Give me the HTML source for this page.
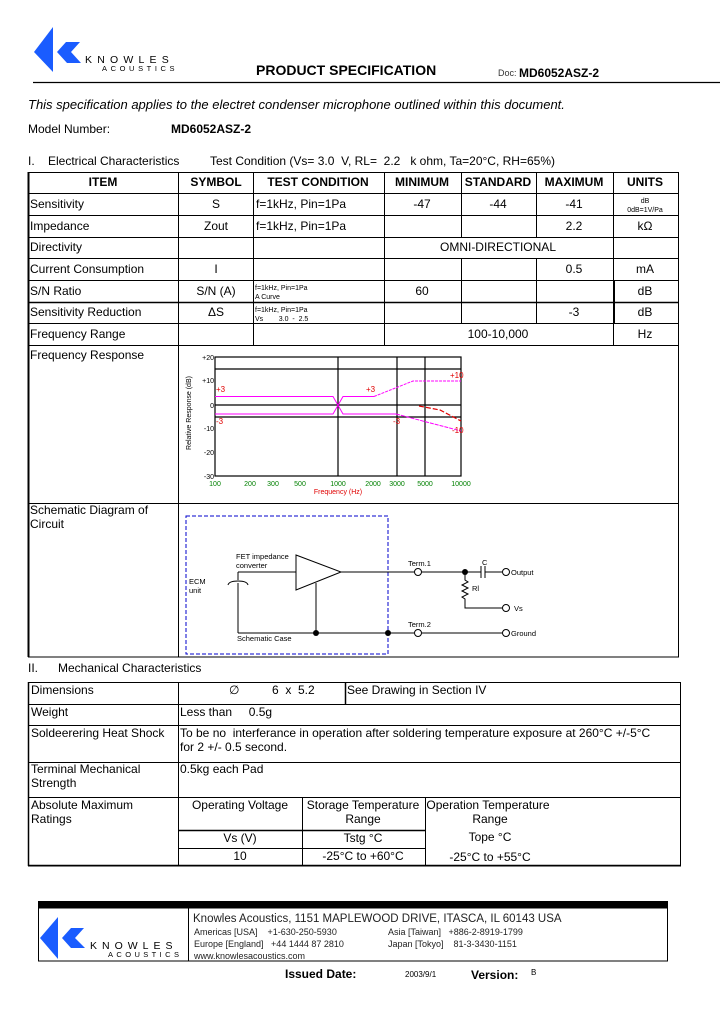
<!DOCTYPE html>
<html><head><meta charset="utf-8"><style>
html,body{margin:0;padding:0;background:#fff;}
svg{display:block;font-family:"Liberation Sans",Arial,sans-serif;}
svg text{white-space:pre;}
</style></head><body>
<svg width="720" height="1012" viewBox="0 0 720 1012" xmlns="http://www.w3.org/2000/svg" xml:space="preserve">
<rect width="720" height="1012" fill="#fff"/>
<!-- header logo -->
<polygon points="34,52 53,27 53,72" fill="#1a5cff"/>
<polygon points="57,52 66,42 80,42 71,52 81,63 67,63" fill="#1a5cff"/>
<text x="85" y="63" font-size="10.5" letter-spacing="5.2" fill="#000">KNOWLES</text>
<text x="102" y="71" font-size="7.5" letter-spacing="3.6" fill="#000">ACOUSTICS</text>
<text x="256" y="75" font-size="14" font-weight="bold">PRODUCT SPECIFICATION</text>
<text x="498" y="76" font-size="9" fill="#333">Doc:</text>
<text x="519" y="77" font-size="12" font-weight="bold">MD6052ASZ-2</text>
<line x1="33" y1="82.5" x2="720" y2="82.5" stroke="#000" stroke-width="1.2"/>
<text x="28" y="109" font-size="13" font-style="italic">This specification applies to the electret condenser microphone outlined within this document.</text>
<text x="28" y="133" font-size="12">Model Number:</text>
<text x="171" y="133" font-size="12" font-weight="bold">MD6052ASZ-2</text>
<text x="28" y="165" font-size="12">I.    Electrical Characteristics</text>
<text x="210" y="165" font-size="12">Test Condition (Vs= 3.0  V, RL=  2.2   k ohm, Ta=20°C, RH=65%)</text>

<!-- table 1 -->
<g stroke="#000" stroke-width="1" fill="none">
<rect x="28.5" y="172.5" width="650" height="484.5"/>
<line x1="28.5" y1="172" x2="28.5" y2="657" stroke-width="2"/>
<line x1="28" y1="193.5" x2="679" y2="193.5"/>
<line x1="28" y1="215.5" x2="679" y2="215.5"/>
<line x1="28" y1="237.5" x2="679" y2="237.5"/>
<line x1="28" y1="258.5" x2="679" y2="258.5"/>
<line x1="28" y1="280.5" x2="679" y2="280.5"/>
<line x1="28" y1="302.5" x2="679" y2="302.5" stroke-width="1.5"/>
<line x1="28" y1="323.5" x2="679" y2="323.5"/>
<line x1="28" y1="345.5" x2="679" y2="345.5"/>
<line x1="28" y1="503.5" x2="679" y2="503.5"/>
<line x1="178.5" y1="172" x2="178.5" y2="657"/>
<line x1="253.5" y1="172" x2="253.5" y2="345"/>
<line x1="384.5" y1="172" x2="384.5" y2="345"/>
<line x1="461.5" y1="172" x2="461.5" y2="237"/>
<line x1="461.5" y1="258" x2="461.5" y2="323"/>
<line x1="536.5" y1="172" x2="536.5" y2="237"/>
<line x1="536.5" y1="258" x2="536.5" y2="323"/>
<line x1="613.5" y1="172" x2="613.5" y2="345"/>
<line x1="614" y1="280" x2="614" y2="323" stroke-width="2"/>
</g>
<g font-size="12" font-weight="bold" text-anchor="middle">
<text x="103" y="186">ITEM</text><text x="216" y="186">SYMBOL</text><text x="318" y="186">TEST CONDITION</text>
<text x="422" y="186">MINIMUM</text><text x="498" y="186">STANDARD</text><text x="574" y="186">MAXIMUM</text><text x="645" y="186">UNITS</text>
</g>
<g font-size="12">
<text x="30" y="208">Sensitivity</text><text x="30" y="230">Impedance</text><text x="30" y="251">Directivity</text>
<text x="30" y="273">Current Consumption</text><text x="30" y="295">S/N Ratio</text><text x="30" y="316">Sensitivity Reduction</text>
<text x="30" y="338">Frequency Range</text><text x="30" y="359">Frequency Response</text>
<text x="30" y="514">Schematic Diagram of</text><text x="30" y="528">Circuit</text>
<text x="256" y="208">f=1kHz, Pin=1Pa</text><text x="256" y="230">f=1kHz, Pin=1Pa</text>
</g>
<g font-size="12" text-anchor="middle">
<text x="216" y="208">S</text><text x="216" y="230">Zout</text><text x="216" y="273">I</text><text x="216" y="295">S/N (A)</text><text x="216" y="316">ΔS</text>
<text x="422" y="208">-47</text><text x="498" y="208">-44</text><text x="574" y="208">-41</text>
<text x="574" y="230">2.2</text><text x="645" y="230">kΩ</text>
<text x="498" y="251">OMNI-DIRECTIONAL</text>
<text x="574" y="273">0.5</text><text x="645" y="273">mA</text>
<text x="422" y="295">60</text><text x="645" y="295">dB</text>
<text x="574" y="316">-3</text><text x="645" y="316">dB</text>
<text x="498" y="338">100-10,000</text><text x="645" y="338">Hz</text>
<text x="645" y="203" font-size="7">dB</text><text x="645" y="212" font-size="7">0dB=1V/Pa</text>
</g>
<g font-size="7">
<text x="255" y="290">f=1kHz, Pin=1Pa</text><text x="255" y="299">A Curve</text>
<text x="255" y="312">f=1kHz, Pin=1Pa</text><text x="255" y="321">Vs        3.0  -  2.5</text>
</g>

<!-- chart -->
<g stroke="#000" stroke-width="1.2" fill="none">
<rect x="215" y="357" width="246" height="119"/>
<line x1="215" y1="369" x2="461" y2="369"/>
<line x1="215" y1="405" x2="461" y2="405"/>
<line x1="215" y1="417" x2="461" y2="417"/>
<line x1="338" y1="357" x2="338" y2="476"/>
<line x1="397" y1="357" x2="397" y2="476"/>
<line x1="425" y1="357" x2="425" y2="476"/>
</g>
<g stroke="#ff00ff" stroke-width="1" fill="none">
<polyline points="215,396.5 333,396.5 343,414 396,414"/>
<polyline points="215,414 333,414 343,396.5 374,396.5"/>
<polyline points="374,396.5 413,381 461,381" stroke-dasharray="3,1"/>
<polyline points="396,414 461,431" stroke-dasharray="4,1"/>
</g>
<polyline points="419,406 440,410 461,421" stroke="#e00000" stroke-width="1.2" fill="none" stroke-dasharray="5,2"/>
<g font-size="8" fill="#e00000">
<text x="216" y="392">+3</text><text x="216" y="424">-3</text><text x="366" y="392">+3</text>
<text x="450" y="378">+10</text><text x="393" y="424">-3</text><text x="452" y="433">-10</text>
</g>
<g font-size="7" text-anchor="end" fill="#000">
<text x="214" y="360">+20</text><text x="214" y="383">+10</text><text x="214" y="408">0</text>
<text x="214" y="431">-10</text><text x="214" y="455">-20</text><text x="214" y="479">-30</text>
</g>
<g font-size="7" text-anchor="middle" fill="#008000">
<text x="215" y="486">100</text><text x="250" y="486">200</text><text x="273" y="486">300</text><text x="300" y="486">500</text>
<text x="338" y="486">1000</text><text x="373" y="486">2000</text><text x="397" y="486">3000</text><text x="425" y="486">5000</text><text x="461" y="486">10000</text>
</g>
<text x="338" y="494" font-size="7" fill="#e00000" text-anchor="middle">Frequency (Hz)</text>
<text transform="translate(191,413) rotate(-90)" font-size="7" text-anchor="middle">Relative Response (dB)</text>

<!-- schematic -->
<rect x="186" y="516" width="202" height="138" fill="none" stroke="#0000cc" stroke-dasharray="4,2" stroke-width="1"/>
<g stroke="#000" stroke-width="1" fill="none">
<polygon points="296,555 296,590 341,572"/>
<line x1="341" y1="572" x2="414" y2="572"/><line x1="422" y1="572" x2="481" y2="572"/>
<line x1="481" y1="566" x2="481" y2="578"/><line x1="485" y1="566" x2="485" y2="578"/>
<line x1="485" y1="572" x2="502" y2="572"/>
<polyline points="465,572 465,580 468,582 462,585 468,588 462,591 468,594 462,597 465,599 465,608 502,608"/>
<line x1="238" y1="572" x2="296" y2="572"/>
<line x1="238" y1="572" x2="238" y2="580"/>
<path d="M228,585 Q229,581 238,581 Q247,581 248,585"/>
<line x1="238" y1="583" x2="238" y2="633"/>
<line x1="238" y1="633" x2="414" y2="633"/><line x1="422" y1="633" x2="502" y2="633"/>
<line x1="316" y1="583" x2="316" y2="633"/>
<circle cx="418" cy="572" r="3.5"/><circle cx="418" cy="633" r="3.5"/>
<circle cx="506" cy="572" r="3.5"/><circle cx="506" cy="608" r="3.5"/><circle cx="506" cy="633" r="3.5"/>
</g>
<circle cx="465" cy="572" r="3" fill="#000"/><circle cx="316" cy="633" r="3" fill="#000"/><circle cx="388" cy="633" r="3" fill="#000"/>
<g font-size="7.5">
<text x="236" y="559">FET impedance</text><text x="236" y="568">converter</text>
<text x="189" y="584">ECM</text><text x="189" y="593">unit</text>
<text x="237" y="641">Schematic Case</text>
<text x="408" y="566">Term.1</text><text x="408" y="627">Term.2</text>
<text x="482" y="565">C</text><text x="472" y="591">Rl</text>
<text x="511" y="575">Output</text><text x="514" y="611">Vs</text><text x="511" y="636">Ground</text>
</g>

<!-- section II -->
<text x="28" y="672" font-size="12">II.      Mechanical Characteristics</text>
<g stroke="#000" stroke-width="1" fill="none">
<rect x="28.5" y="682.5" width="652" height="183.5"/>
<line x1="28.5" y1="682" x2="28.5" y2="866" stroke-width="1.5"/>
<line x1="28" y1="865.5" x2="681" y2="865.5" stroke-width="1.5"/>
<line x1="28" y1="704.5" x2="681" y2="704.5"/>
<line x1="28" y1="725.5" x2="681" y2="725.5"/>
<line x1="28" y1="762.5" x2="681" y2="762.5"/>
<line x1="28" y1="797.5" x2="681" y2="797.5"/>
<line x1="178.5" y1="682" x2="178.5" y2="866"/>
<line x1="345.5" y1="682" x2="345.5" y2="704" stroke-width="1.5"/>
<line x1="302.5" y1="797" x2="302.5" y2="866"/>
<line x1="425.5" y1="797" x2="425.5" y2="866"/>
<line x1="178" y1="830.5" x2="425" y2="830.5" stroke-width="1.5"/>
<line x1="178" y1="848.5" x2="425" y2="848.5"/>
</g>
<g font-size="12">
<text x="31" y="694">Dimensions</text><text x="31" y="716">Weight</text><text x="31" y="737">Soldeerering Heat Shock</text>
<text x="31" y="773">Terminal Mechanical</text><text x="31" y="787">Strength</text>
<text x="31" y="809">Absolute Maximum</text><text x="31" y="823">Ratings</text>
<text x="229" y="694">∅</text><text x="272" y="694">6  x  5.2</text>
<text x="347" y="694">See Drawing in Section IV</text>
<text x="180" y="716">Less than     0.5g</text>
<text x="180" y="737">To be no  interferance in operation after soldering temperature exposure at 260°C +/-5°C</text>
<text x="180" y="751">for 2 +/- 0.5 second.</text>
<text x="180" y="773">0.5kg each Pad</text>
</g>
<g font-size="12" text-anchor="middle">
<text x="240" y="809">Operating Voltage</text>
<text x="363" y="809">Storage Temperature</text><text x="363" y="823">Range</text>
<text x="488" y="809">Operation Temperature</text><text x="490" y="823">Range</text>
<text x="240" y="842">Vs (V)</text><text x="363" y="842">Tstg °C</text><text x="490" y="841">Tope °C</text>
<text x="240" y="860">10</text><text x="363" y="860">-25°C to +60°C</text><text x="490" y="861">-25°C to +55°C</text>
</g>

<!-- footer -->
<rect x="38" y="901" width="630" height="7" fill="#000"/>
<rect x="38.5" y="908" width="629" height="53" fill="none" stroke="#000" stroke-width="1"/>
<line x1="188.5" y1="908" x2="188.5" y2="961" stroke="#000"/>
<polygon points="40,938 58,917 58,959" fill="#1a5cff"/>
<polygon points="62,938 71,928 84,928 75,938 85,948 71,948" fill="#1a5cff"/>
<text x="90" y="949" font-size="10.5" letter-spacing="5" >KNOWLES</text>
<text x="108" y="957" font-size="7.5" letter-spacing="3.4">ACOUSTICS</text>
<text x="193" y="922" font-size="11.5" fill="#222">Knowles Acoustics, 1151 MAPLEWOOD DRIVE, ITASCA, IL 60143 USA</text>
<g font-size="9" fill="#222">
<text x="194" y="935">Americas [USA]    +1-630-250-5930</text><text x="388" y="935">Asia [Taiwan]   +886-2-8919-1799</text>
<text x="194" y="947">Europe [England]   +44 1444 87 2810</text><text x="388" y="947">Japan [Tokyo]    81-3-3430-1151</text>
<text x="194" y="959">www.knowlesacoustics.com</text>
</g>
<text x="285" y="978" font-size="12" font-weight="bold">Issued Date:</text>
<text x="405" y="977" font-size="8">2003/9/1</text>
<text x="471" y="979" font-size="12" font-weight="bold">Version:</text>
<text x="531" y="975" font-size="8">B</text>
</svg>
</body></html>
